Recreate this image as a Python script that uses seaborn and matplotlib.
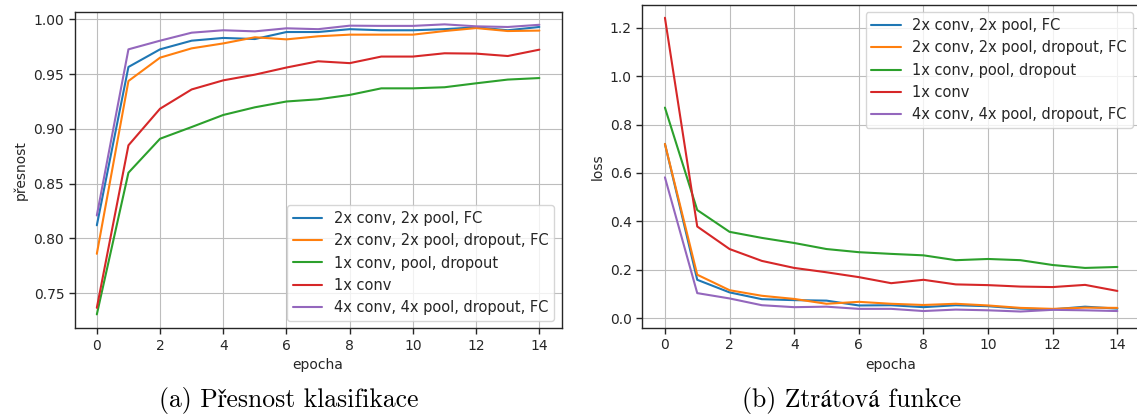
import matplotlib
matplotlib.use("Agg")
import matplotlib.pyplot as plt
import seaborn as sns
import pandas as pd
import numpy as np

epochs = list(range(15))
models = ["2x conv, 2x pool, FC", "2x conv, 2x pool, dropout, FC",
          "1x conv, pool, dropout", "1x conv", "4x conv, 4x pool, dropout, FC"]

acc_2conv_fc = [0.812, 0.9565, 0.9726, 0.9805, 0.983, 0.982, 0.9884, 0.9884, 0.991, 0.990, 0.990, 0.991, 0.9927, 0.990, 0.993]
acc_2conv_drop = [0.786, 0.9437, 0.965, 0.9735, 0.978, 0.9836, 0.9817, 0.9845, 0.986, 0.986, 0.986, 0.9893, 0.992, 0.9893, 0.9897]
acc_1conv_pool = [0.7307, 0.860, 0.891, 0.9017, 0.9127, 0.9197, 0.925, 0.927, 0.931, 0.937, 0.937, 0.938, 0.9416, 0.945, 0.9464]
acc_1conv = [0.7367, 0.885, 0.9184, 0.936, 0.9443, 0.9495, 0.956, 0.9617, 0.960, 0.966, 0.966, 0.969, 0.9687, 0.9665, 0.9723]
acc_4conv = [0.821, 0.9726, 0.9805, 0.9878, 0.990, 0.989, 0.9918, 0.991, 0.9942, 0.994, 0.994, 0.9954, 0.9936, 0.993, 0.995]

loss_2conv_fc = [0.72, 0.159, 0.107, 0.079, 0.075, 0.073, 0.053, 0.054, 0.046, 0.054, 0.050, 0.040, 0.037, 0.048, 0.040]
loss_2conv_drop = [0.72, 0.180, 0.116, 0.093, 0.080, 0.060, 0.068, 0.060, 0.055, 0.060, 0.053, 0.043, 0.039, 0.044, 0.043]
loss_1conv_pool = [0.870, 0.447, 0.357, 0.332, 0.311, 0.286, 0.273, 0.266, 0.260, 0.240, 0.245, 0.240, 0.220, 0.208, 0.212]
loss_1conv = [1.241, 0.379, 0.286, 0.237, 0.208, 0.190, 0.170, 0.145, 0.159, 0.140, 0.137, 0.131, 0.129, 0.138, 0.113]
loss_4conv = [0.582, 0.104, 0.082, 0.054, 0.046, 0.048, 0.039, 0.039, 0.030, 0.036, 0.033, 0.028, 0.035, 0.033, 0.030]

acc_series = [acc_2conv_fc, acc_2conv_drop, acc_1conv_pool, acc_1conv, acc_4conv]
loss_series = [loss_2conv_fc, loss_2conv_drop, loss_1conv_pool, loss_1conv, loss_4conv]

def long_df(series, name):
    rows = []
    for m, vals in zip(models, series):
        for e, v in zip(epochs, vals):
            rows.append({"epocha": e, name: v, "model": m})
    return pd.DataFrame(rows)

df_acc = long_df(acc_series, "přesnost")
df_loss = long_df(loss_series, "loss")

sns.set_theme(style="ticks", rc={
    "axes.grid": True,
    "grid.color": "#bdbdbd",
    "grid.linewidth": 0.8,
    "axes.edgecolor": "#262626",
    "axes.linewidth": 1.0,
    "font.size": 10,
    "axes.labelsize": 10,
    "xtick.labelsize": 10,
    "ytick.labelsize": 10,
    "legend.fontsize": 10.5,
    "xtick.direction": "out",
    "ytick.direction": "out",
})
plt.rcParams["font.family"] = ["DejaVu Sans"]

palette = sns.color_palette("tab10", 5)

W, H = 1137, 416
fig = plt.figure(figsize=(W / 100, H / 100), dpi=100)

def px_axes(l, r, t, b):
    return fig.add_axes([l / W, (H - b) / H, (r - l) / W, (b - t) / H])

ax1 = px_axes(74.7, 561.5, 12.3, 328.3)
ax2 = px_axes(642.3, 1140.0, 5.0, 327.7)

sns.lineplot(data=df_acc, x="epocha", y="přesnost", hue="model", hue_order=models,
             palette=palette, ax=ax1, linewidth=1.5)
sns.lineplot(data=df_loss, x="epocha", y="loss", hue="model", hue_order=models,
             palette=palette, ax=ax2, linewidth=1.5)

ax1.set_xlim(-0.7, 14.7)
ax1.set_ylim(0.718, 1.0064)
ax1.set_xticks([0, 2, 4, 6, 8, 10, 12, 14])
ax1.set_yticks([0.75, 0.80, 0.85, 0.90, 0.95, 1.00])
ax1.set_yticklabels(["0.75", "0.80", "0.85", "0.90", "0.95", "1.00"])

ax2.set_xlim(-0.7, 14.7)
ax2.set_ylim(-0.0388, 1.2937)
ax2.set_xticks([0, 2, 4, 6, 8, 10, 12, 14])
ax2.set_yticks([0.0, 0.2, 0.4, 0.6, 0.8, 1.0, 1.2])
ax2.set_yticklabels(["0.0", "0.2", "0.4", "0.6", "0.8", "1.0", "1.2"])

for ax in (ax1, ax2):
    ax.tick_params(length=4, width=1, color="#262626")
    for s in ax.spines.values():
        s.set_visible(True)

ax1.legend(loc="lower right", frameon=True, fancybox=True, framealpha=0.8, edgecolor="#cccccc")
ax2.legend(loc="upper right", frameon=True, fancybox=True, framealpha=0.8, edgecolor="#cccccc")

cap_family = ["cmr10", "STIXGeneral"]
fig.text(289 / W, 1 - 400 / H, "(a) Přesnost klasifikace", ha="center", va="center",
         fontsize=18.5, family=cap_family, color="black")
fig.text(852 / W, 1 - 400 / H, "(b) Ztrátová funkce", ha="center", va="center",
         fontsize=18.5, family=cap_family, color="black")

fig.savefig("out.png", dpi=100)
